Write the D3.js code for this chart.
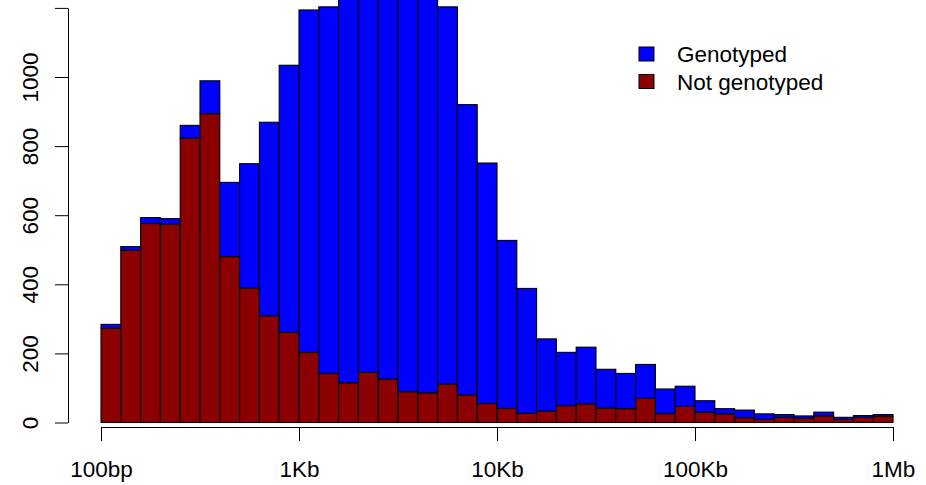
<!DOCTYPE html>
<html>
<head>
<meta charset="utf-8">
<script src="https://cdn.jsdelivr.net/npm/d3@7"></script>
<style>
	body { margin: 0; background: #fff; }
	svg { display: block; font-family: 'Liberation Sans', Arial, sans-serif; }
</style>
</head>
<body>
<div data-chart></div>
<script>
const dimensions = {
	width: 926,
	height: 485,
	left: 101,
	right: 893,
	bottom: 422.5,
	top: 7.9,
	fontSize: 22.5
}

// counts per bin, 10 bins per decade from 100bp to 1Mb
const notGenotyped = [273, 499, 576, 574, 823, 894, 480, 389, 309, 261,
	203, 142, 115, 145, 126, 89, 86, 111, 80, 55,
	41, 27, 33, 49, 54, 42, 40, 70, 26, 47,
	30, 25, 14, 9, 15, 12, 19, 9, 15, 18]
const genotyped = [11, 10, 17, 16, 37, 95, 215, 360, 560, 773,
	991, 1061, 1175, 1185, 1194, 1191, 1164, 1092, 840, 696,
	486, 361, 209, 154, 164, 112, 102, 98, 71, 58,
	33, 15, 22, 16, 8, 7, 11, 6, 5, 5]

const xTicks = [100, 1000, 10000, 100000, 1000000]
const xTickLabels = ['100bp', '1Kb', '10Kb', '100Kb', '1Mb']
const yTicks = [0, 200, 400, 600, 800, 1000, 1200]
const yTickLabels = ['0', '200', '400', '600', '800', '1000', '']

const legendKeys = ['Genotyped', 'Not genotyped']
const colors = { 'Genotyped': '#0000ff', 'Not genotyped': '#8b0000' }

const data = notGenotyped.map((n, i) => ({
	from: Math.pow(10, 2 + i / 10),
	to: Math.pow(10, 2 + (i + 1) / 10),
	'Not genotyped': n,
	'Genotyped': genotyped[i]
}))

const draw = () => {
	const svg = d3.select('[data-chart]')
		.append('svg')
		.attr('width', dimensions.width)
		.attr('height', dimensions.height)

	const xScale = d3.scaleLog()
		.domain([100, 1000000])
		.range([dimensions.left, dimensions.right])

	const yScale = d3.scaleLinear()
		.domain([0, 1200])
		.range([dimensions.bottom, dimensions.top])

	/* Bars */
	const stack = d3.stack().keys(['Not genotyped', 'Genotyped'])
	const series = stack(data)

	svg.append('g')
		.selectAll('g')
		.data(series)
		.join('g')
		.attr('fill', (s) => colors[s.key])
		.selectAll('rect')
		.data((s) => s)
		.join('rect')
		.attr('x', (d) => xScale(d.data.from))
		.attr('width', (d) => xScale(d.data.to) - xScale(d.data.from))
		.attr('y', (d) => yScale(d[1]))
		.attr('height', (d) => yScale(d[0]) - yScale(d[1]))
		.attr('stroke', '#000')
		.attr('stroke-width', 1.1)

	/* X axis */
	const xAxis = d3.axisBottom(xScale)
		.tickValues(xTicks)
		.tickFormat((d, i) => xTickLabels[i])
		.tickSize(14)
		.tickPadding(20)
		.tickSizeOuter(0)

	const gx = svg.append('g')
		.attr('transform', 'translate(0, 427)')
		.call(xAxis)
	gx.select('.domain').attr('stroke', '#000')
	gx.selectAll('.tick line').attr('stroke', '#000')
	gx.selectAll('.tick text')
		.attr('fill', '#000')
		.attr('font-size', dimensions.fontSize)
		.attr('font-family', "'Liberation Sans', Arial, sans-serif")
		.attr('dy', '0.71em')

	/* Y axis */
	const yAxis = d3.axisLeft(yScale)
		.tickValues(yTicks)
		.tickFormat((d, i) => yTickLabels[i])
		.tickSize(13)
		.tickSizeOuter(0)

	const gy = svg.append('g')
		.attr('transform', 'translate(68, 0)')
		.call(yAxis)
	gy.select('.domain').attr('stroke', '#000')
	gy.selectAll('.tick line').attr('stroke', '#000')
	gy.selectAll('.tick text')
		.attr('fill', '#000')
		.attr('font-size', dimensions.fontSize)
		.attr('font-family', "'Liberation Sans', Arial, sans-serif")
		.attr('text-anchor', 'middle')
		.attr('x', 0)
		.attr('dy', 0)
		.attr('transform', 'translate(-30.5, 0) rotate(-90)')

	/* Legend */
	const legend = svg.append('g')
		.selectAll('g')
		.data(legendKeys)
		.join('g')
		.attr('transform', (d, i) => `translate(639, ${47 + i * 27.5})`)

	legend.append('rect')
		.attr('width', 15)
		.attr('height', 14)
		.attr('fill', (d) => colors[d])
		.attr('stroke', '#000')
		.attr('stroke-width', 1)

	legend.append('text')
		.attr('x', 38)
		.attr('y', 15)
		.attr('font-size', dimensions.fontSize)
		.attr('fill', '#000')
		.text((d) => d)
}

draw()
</script>
</body>
</html>
